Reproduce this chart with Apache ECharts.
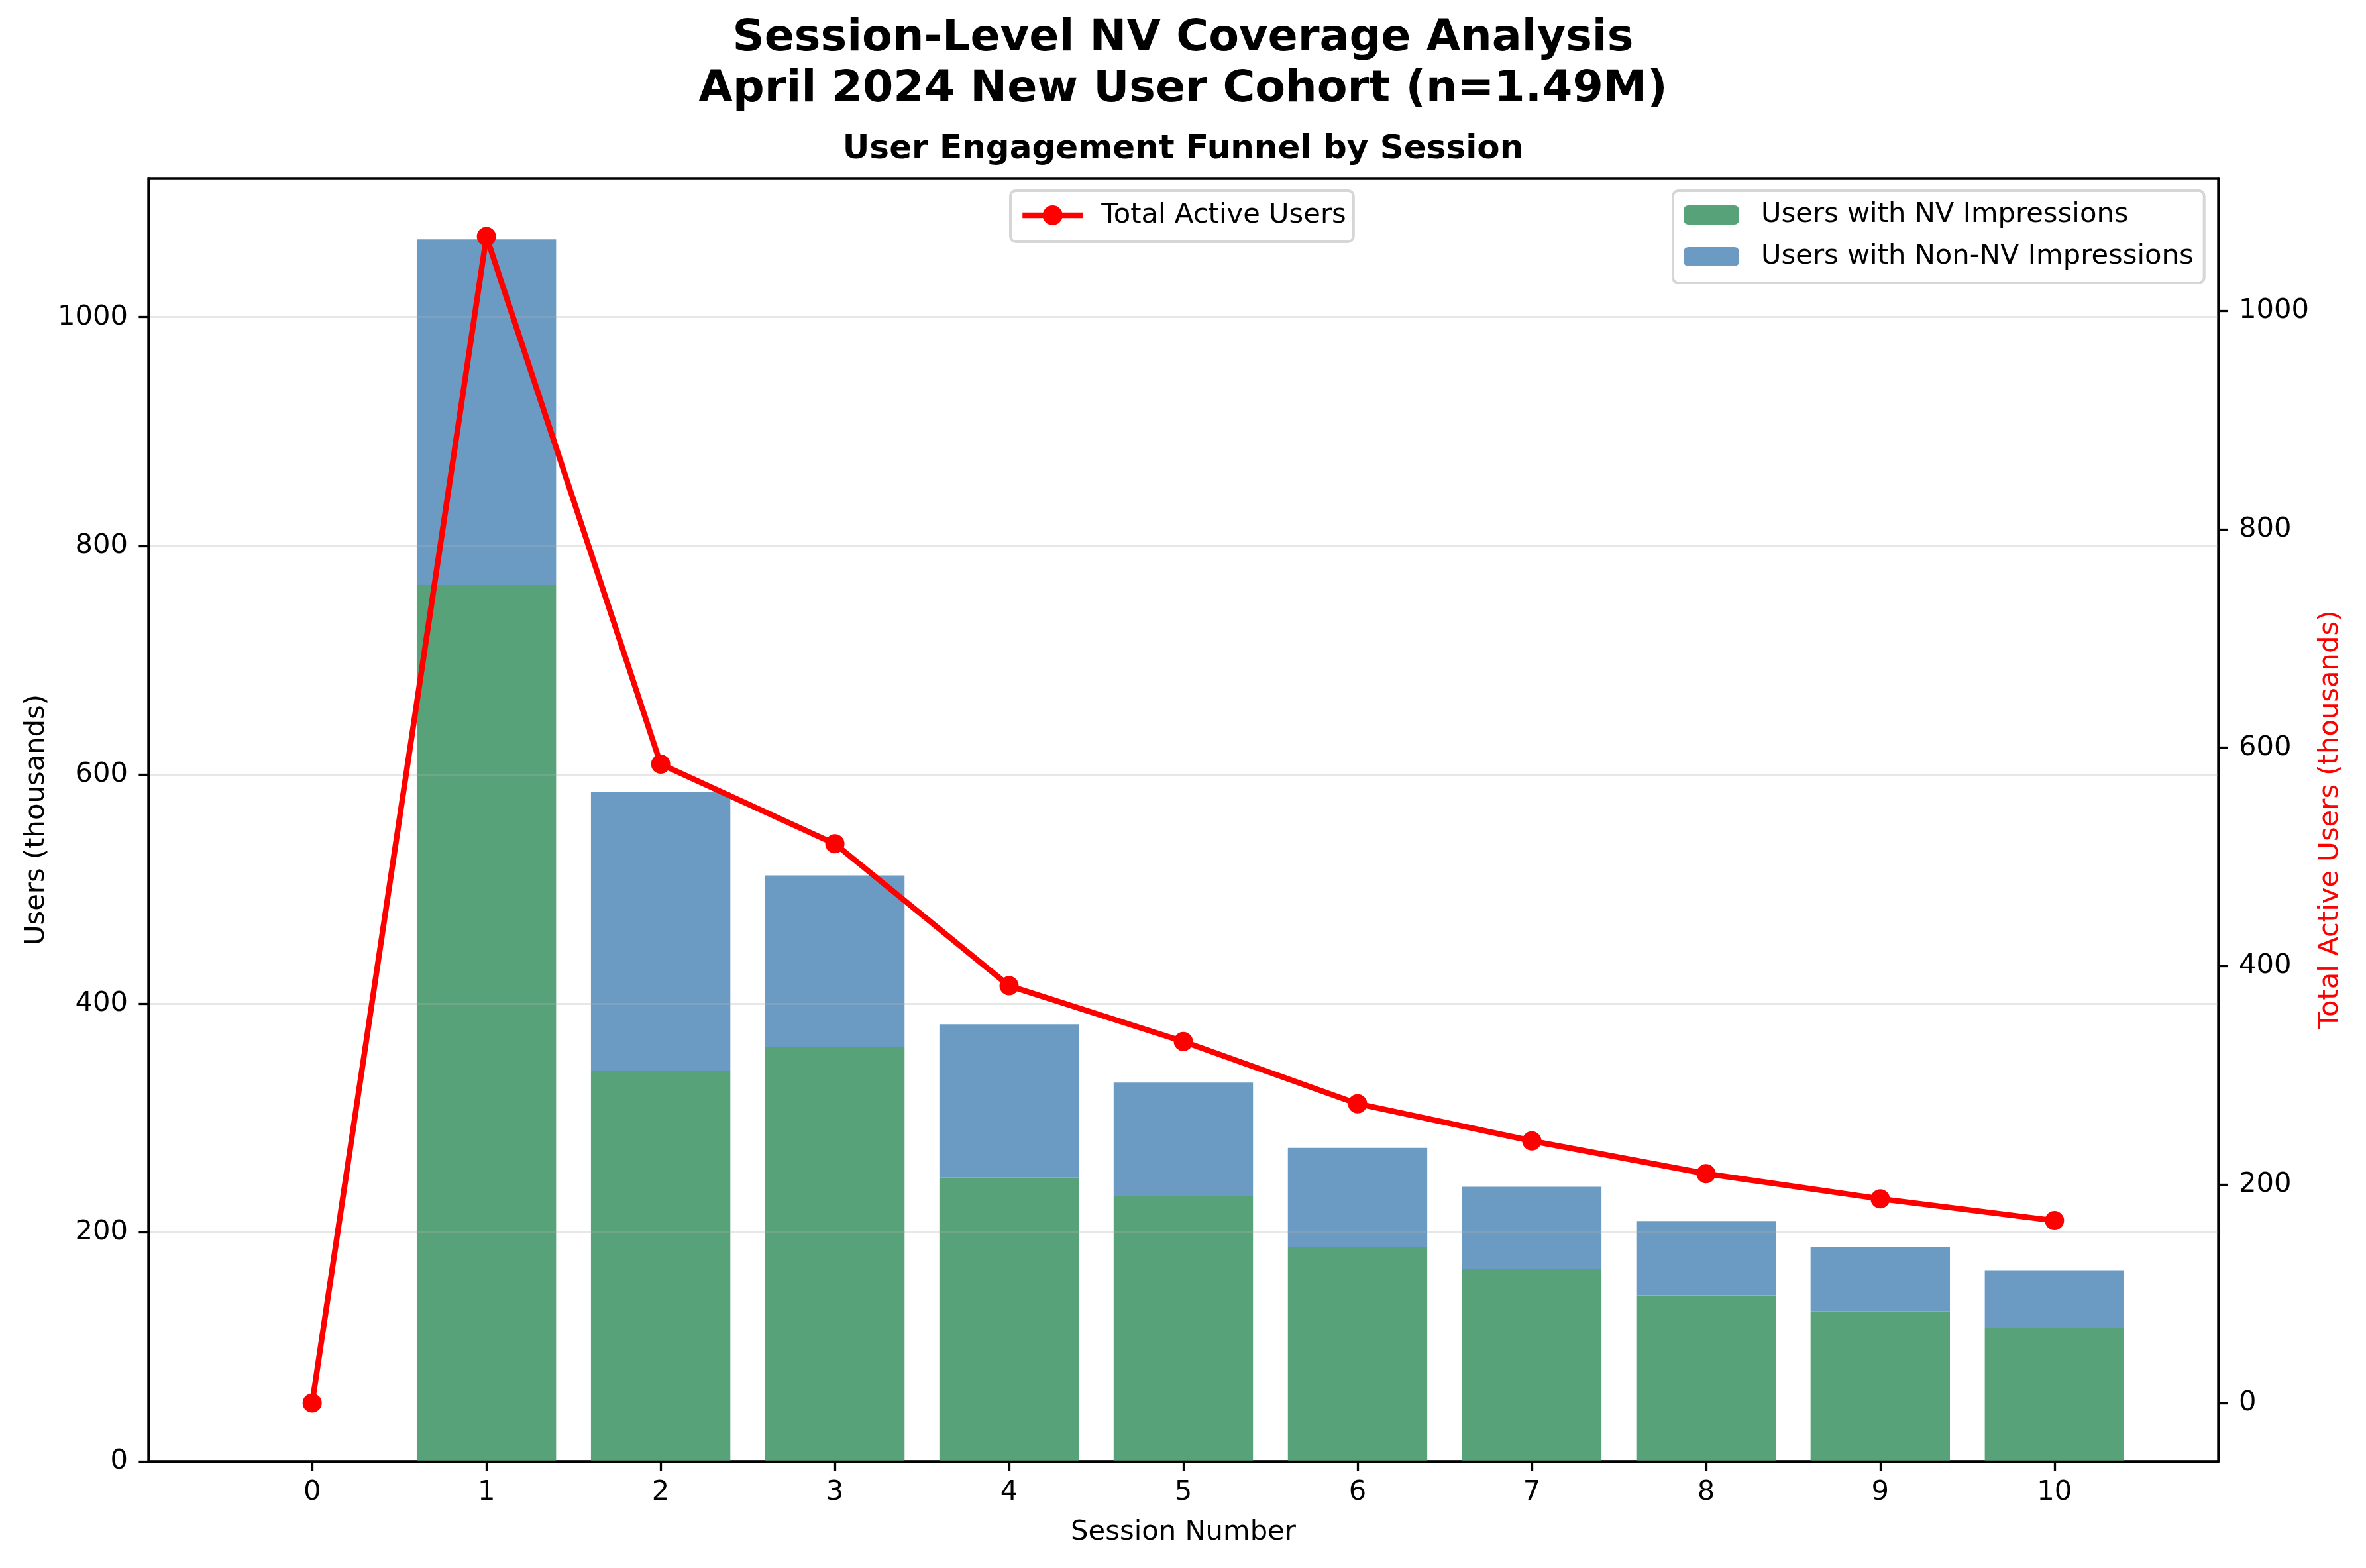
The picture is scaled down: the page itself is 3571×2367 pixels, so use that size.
<!DOCTYPE html>
<html>
<head>
<meta charset="utf-8">
<script src="https://cdn.jsdelivr.net/npm/echarts@6/dist/echarts.min.js"></script>
<style>
  html, body { margin: 0; padding: 0; background: #ffffff; }
  #chart { width: 3571px; height: 2367px; }
</style>
</head>
<body>
<div id="chart"></div>
<script>
// ---- Data (thousands of users) ----
const sessions = [0, 1, 2, 3, 4, 5, 6, 7, 8, 9, 10];
const nvUsers = [0, 766, 341, 362, 248, 232, 187, 168, 145, 131, 117];
const nonNvUsers = [0, 302, 244, 150, 134, 99, 87, 72, 65, 56, 50];
const totalActiveUsers = [0, 1068, 585, 512, 382, 331, 274, 240, 210, 187, 167];
const leftTicks = [0, 200, 400, 600, 800, 1000];
const rightTicks = [0, 200, 400, 600, 800, 1000];

// ---- Layout ----
const W = 3571, H = 2367;
const gridLeft = 224, gridRight = 223, gridTop = 269, gridBottom = 161;
const plotW = W - gridLeft - gridRight;
const xMin = -0.94, xMax = 10.94;
const barWidthPx = 0.8 * plotW / (xMax - xMin);
const FONT = 'DejaVu Sans';
const FS = 41.7;

const dataMax = Math.max(...totalActiveUsers);
const leftMax = dataMax * 1.05;
const rightMin = -dataMax * 0.05;
const rightMax = dataMax * 1.05;

const plain = v => String(v);

const chart = echarts.init(document.getElementById('chart'), null, { renderer: 'canvas', width: W, height: H });

const option = {
  backgroundColor: '#ffffff',
  animation: false,
  textStyle: { fontFamily: FONT },
  title: [
    {
      text: 'Session-Level NV Coverage Analysis\nApril 2024 New User Cohort (n=1.49M)',
      left: 'center', top: 20, padding: 0,
      textStyle: { fontFamily: FONT, fontSize: 66.7, fontWeight: 'bold', color: '#000', lineHeight: 77, align: 'center' }
    },
    {
      text: 'User Engagement Funnel by Session',
      left: 'center', top: 196, padding: 0,
      textStyle: { fontFamily: FONT, fontSize: 50, fontWeight: 'bold', color: '#000', lineHeight: 60 }
    }
  ],
  legend: [
    {
      data: ['Total Active Users'],
      left: 1525, top: 288,
      orient: 'vertical',
      padding: [12, 11, 15, 14],
      itemWidth: 91, itemHeight: 37.5,
      lineStyle: { width: 8.5, color: '#ff0000' },
      backgroundColor: 'rgba(255,255,255,0.8)',
      borderColor: '#d6d6d6', borderWidth: 4, borderRadius: 8,
      textStyle: { fontFamily: FONT, fontSize: FS, color: '#000', lineHeight: 50, padding: [0, 0, 0, 23] }
    },
    {
      data: ['Users with NV Impressions', 'Users with Non-NV Impressions'],
      left: 2525, top: 288,
      orient: 'vertical',
      padding: [11.5, 16, 14.5, 16],
      itemGap: 13,
      itemWidth: 84, itemHeight: 29,
      backgroundColor: 'rgba(255,255,255,0.8)',
      borderColor: '#d6d6d6', borderWidth: 4, borderRadius: 8,
      textStyle: { fontFamily: FONT, fontSize: FS, color: '#000', lineHeight: 50, padding: [0, 0, 0, 28] }
    }
  ],
  grid: {
    left: gridLeft, right: gridRight, top: gridTop, bottom: gridBottom,
    show: true, borderColor: '#000', borderWidth: 3.3, backgroundColor: 'transparent'
  },
  xAxis: {
    type: 'value', min: xMin, max: xMax,
    name: 'Session Number', nameLocation: 'middle', nameGap: 82,
    nameTextStyle: { fontFamily: FONT, fontSize: FS, color: '#000', lineHeight: 50 },
    axisLine: { show: true, onZero: false, lineStyle: { color: '#000', width: 3.3 } },
    axisTick: { show: true, length: 14.6, lineStyle: { color: '#000', width: 3.3 }, customValues: sessions },
    axisLabel: { fontFamily: FONT, fontSize: FS, color: '#000', margin: 22, lineHeight: 50, customValues: sessions, formatter: plain },
    splitLine: { show: false },
    z: 6
  },
  yAxis: [
    {
      type: 'value', min: 0, max: leftMax, position: 'left',
      name: 'Users (thousands)', nameLocation: 'middle', nameGap: 145, nameRotate: 90,
      nameTextStyle: { fontFamily: FONT, fontSize: FS, color: '#000' },
      axisLine: { show: true, onZero: false, lineStyle: { color: '#000', width: 3.3 } },
      axisTick: { show: true, length: 14.6, lineStyle: { color: '#000', width: 3.3 }, customValues: leftTicks },
      axisLabel: { fontFamily: FONT, fontSize: FS, color: '#000', margin: 31, lineHeight: 50, customValues: leftTicks, formatter: plain },
      interval: 200,
      splitLine: { show: true, lineStyle: { color: 'rgba(176,176,176,0.3)', width: 2.8 } },
      z: 3
    },
    {
      type: 'value', min: rightMin, max: rightMax, position: 'right',
      name: 'Total Active Users (thousands)', nameLocation: 'middle', nameGap: 139, nameRotate: 90,
      nameTextStyle: { fontFamily: FONT, fontSize: FS, color: '#ff0000' },
      axisLine: { show: true, onZero: false, lineStyle: { color: '#000', width: 3.3 } },
      axisTick: { show: true, length: 14.6, lineStyle: { color: '#000', width: 3.3 }, customValues: rightTicks },
      axisLabel: { fontFamily: FONT, fontSize: FS, color: '#000', margin: 31, lineHeight: 50, customValues: rightTicks, formatter: plain },
      splitLine: { show: false },
      z: 3
    }
  ],
  series: [
    {
      name: 'Users with NV Impressions', type: 'bar', stack: 'users',
      xAxisIndex: 0, yAxisIndex: 0,
      barWidth: barWidthPx,
      itemStyle: { color: '#58a279' },
      encode: { x: 1, y: 0 },
      data: sessions.map((s, i) => [nvUsers[i], s]),
      z: 2
    },
    {
      name: 'Users with Non-NV Impressions', type: 'bar', stack: 'users',
      xAxisIndex: 0, yAxisIndex: 0,
      barWidth: barWidthPx,
      itemStyle: { color: '#6b9bc3' },
      encode: { x: 1, y: 0 },
      data: sessions.map((s, i) => [nonNvUsers[i], s]),
      z: 2
    },
    {
      name: 'Total Active Users', type: 'line',
      xAxisIndex: 0, yAxisIndex: 1,
      symbol: 'circle', symbolSize: 29,
      itemStyle: { color: '#ff0000' },
      lineStyle: { color: '#ff0000', width: 8.5 },
      data: sessions.map((s, i) => [s, totalActiveUsers[i]]),
      z: 5
    }
  ]
};

chart.setOption(option);
</script>
</body>
</html>
